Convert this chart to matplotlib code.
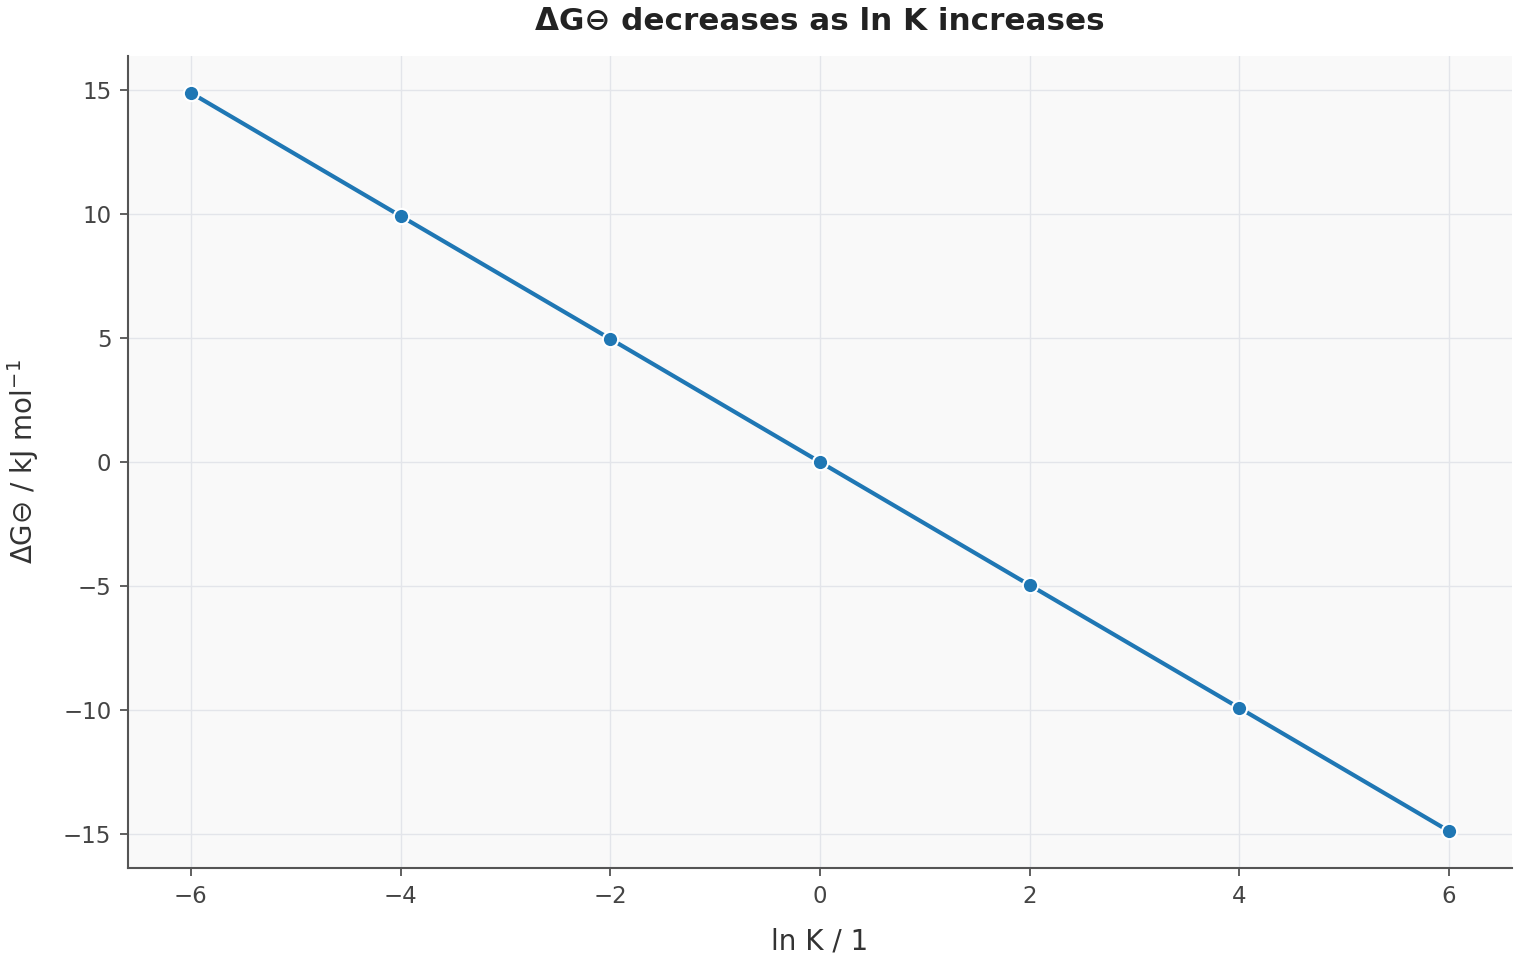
import matplotlib
matplotlib.use('Agg')
import matplotlib.pyplot as plt

ln_k = [-6, -4, -2, 0, 2, 4, 6]
delta_g = [14.87, 9.91, 4.96, 0.0, -4.96, -9.91, -14.87]

fig = plt.figure(figsize=(15.2, 9.6), dpi=100)
ax = fig.add_axes([0.0842, 0.0958, 0.9105, 0.8459])
ax.set_facecolor('#f9f9f9')

ax.plot(ln_k, delta_g, color='#1f77b4', linewidth=3, marker='o', markersize=11,
        markeredgecolor='white', markeredgewidth=1.5, zorder=3)

ax.grid(True, color='#e3e5ea', linewidth=1)
ax.set_axisbelow(True)
for side in ['top', 'right']:
    ax.spines[side].set_visible(False)
for side in ['left', 'bottom']:
    ax.spines[side].set_color('#555555')
    ax.spines[side].set_linewidth(1.5)

ax.tick_params(colors='#444444', labelsize=16.5, length=6, width=1.2, pad=6)
ax.set_xticks(ln_k)
ax.set_yticks([-15, -10, -5, 0, 5, 10, 15])

ax.set_xlabel('ln K / 1', fontsize=20, color='#333333', labelpad=14)
ax.set_ylabel('ΔG⊖ / kJ mol$^{-1}$', fontsize=20, color='#333333', labelpad=16)
ax.set_title('ΔG⊖ decreases as ln K increases', fontsize=22.3, fontweight='bold',
             color='#222222', pad=19)

fig.savefig('out.png', dpi=100)
